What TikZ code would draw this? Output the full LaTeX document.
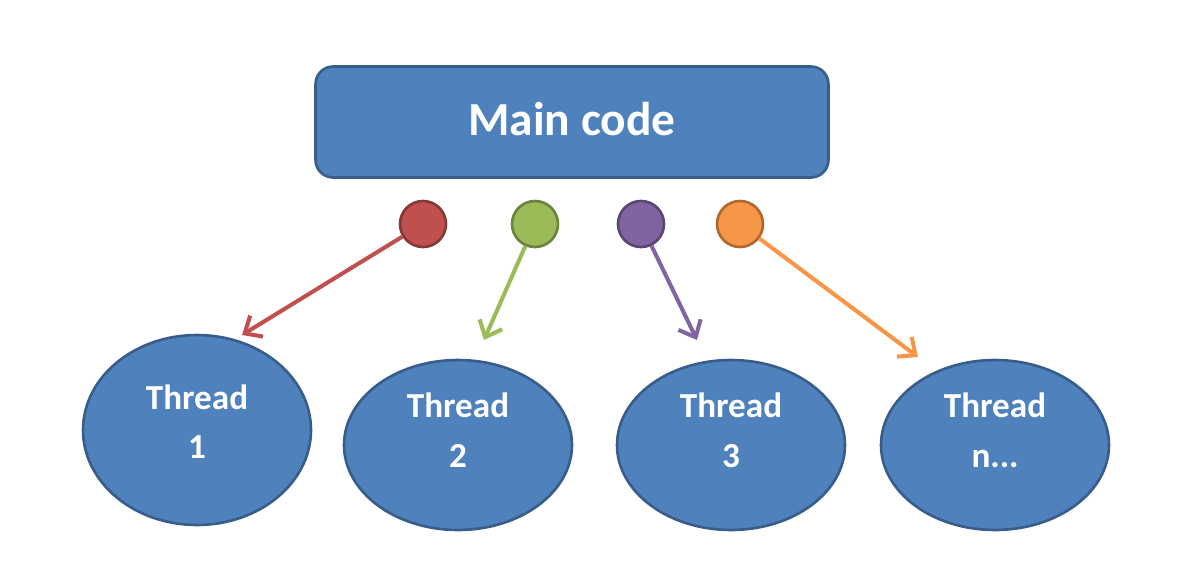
\documentclass[tikz,border=0pt]{standalone}
\usepackage{fontspec}
\setmainfont{Carlito}
\usetikzlibrary{shapes.geometric,arrows.meta}
\definecolor{boxblue}{HTML}{4F81BD}
\definecolor{boxedge}{HTML}{385D8A}
\definecolor{tred}{HTML}{C0504D}
\definecolor{tgreen}{HTML}{9BBB59}
\definecolor{tpurple}{HTML}{8064A2}
\definecolor{torange}{HTML}{F79646}
\newcommand{\twoline}[3]{\raisebox{#1}[0pt][0pt]{\begin{tabular}{@{}c@{}}#2\\[4pt]#3\end{tabular}}}
\tikzset{
  main/.style={draw=boxedge, fill=boxblue, line width=1.5pt, rounded corners=10pt,
    minimum width=10.26cm, minimum height=2.22cm, text=white, font=\bfseries\fontsize{27}{30}\selectfont},
  thread/.style={ellipse, draw=boxedge, fill=boxblue, line width=1.5pt,
    minimum width=4.56cm, minimum height=3.4cm, text=white, align=center,
    font=\bfseries\fontsize{20}{24}\selectfont},
  dot/.style={circle, draw=#1!70!black, fill=#1, line width=1.5pt, minimum size=0.92cm, inner sep=0pt},
  link/.style={#1, line width=2.3pt, -{Straight Barb[length=8pt,width=14pt]}}
}
\begin{document}
\begin{tikzpicture}[x=0.02cm,y=-0.02cm]
  \useasboundingbox (0,0) rectangle (1200,582);
  \node[main] (main) at (572,122) {\raisebox{4pt}{Main code}};

  \node[dot=tred]    (d1) at (423,224) {};
  \node[dot=tgreen]  (d2) at (535,224) {};
  \node[dot=tpurple] (d3) at (641,224) {};
  \node[dot=torange] (d4) at (740,224) {};

  \node[thread, minimum height=3.8cm] (t1) at (197,430) {\twoline{-2.5pt}{Thread}{1}};
  \node[thread] (t2) at (458,445) {\twoline{1pt}{Thread}{2}};
  \node[thread] (t3) at (731,445) {\twoline{1pt}{Thread}{3}};
  \node[thread] (tn) at (995,445) {\twoline{1pt}{Thread}{n...}};

  \coordinate (e1) at (242,335);
  \coordinate (e2) at (484,340);
  \coordinate (e3) at (697,340);
  \coordinate (e4) at (918,357);

  \draw[link=tred]    (d1) -- (e1);
  \draw[link=tgreen]  (d2) -- (e2);
  \draw[link=tpurple] (d3) -- (e3);
  \draw[link=torange] (d4) -- (e4);
\end{tikzpicture}
\end{document}
